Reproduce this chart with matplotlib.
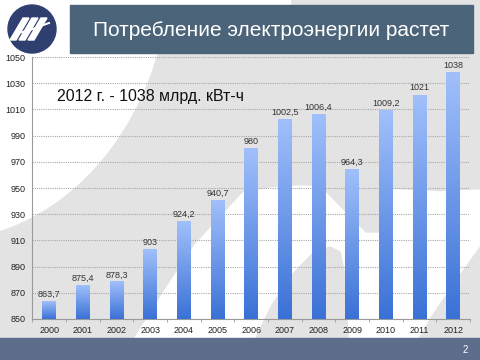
import matplotlib
matplotlib.use("Agg")
import matplotlib.pyplot as plt
import numpy as np
from matplotlib.patches import Rectangle, Circle, Ellipse, Polygon
from matplotlib.colors import LinearSegmentedColormap

years = ["2000", "2001", "2002", "2003", "2004", "2005", "2006",
         "2007", "2008", "2009", "2010", "2011", "2012"]
values = [863.7, 875.4, 878.3, 903, 924.2, 940.7, 980,
          1002.5, 1006.4, 964.3, 1009.2, 1021, 1038]
value_labels = ["863,7", "875,4", "878,3", "903", "924,2", "940,7", "980",
                "1002,5", "1006,4", "964,3", "1009,2", "1021", "1038"]
y_ticks = list(range(850, 1051, 20))
title = "Потребление электроэнергии растет"
note = "2012 г. - 1038 млрд. кВт-ч"
page = "2"

plt.rcParams['font.family'] = ['Liberation Sans', 'DejaVu Sans']

W, H = 480, 360
fig = plt.figure(figsize=(4.8, 3.6), dpi=100)

# background layer in pixel coordinates (y down)
bg = fig.add_axes([0, 0, 1, 1], zorder=0)
bg.set_xlim(0, W)
bg.set_ylim(H, 0)
bg.axis("off")
gray = "#e3e3e3"
bg.add_patch(Rectangle((0, 0), W, H, color=gray, zorder=0))
# white top-left region
bg.add_patch(Ellipse((-60, -40), 2 * 230, 2 * 280, color="white", zorder=1))
bg.add_patch(Rectangle((0, 0), 290, 5, color="white", zorder=1))
# white swoosh band lower right
bg.add_patch(Polygon([(135, 338), (165, 290), (195, 245), (243, 193), (270, 188),
                      (300, 186), (340, 188), (400, 190), (440, 192), (480, 190),
                      (480, 245), (455, 280), (430, 317), (418, 338)],
                     closed=True, color="white", zorder=1))
# gray wedge cutting from top
bg.add_patch(Polygon([(322, 187), (388, 189), (378, 232), (366, 232)],
                     closed=True, color=gray, zorder=2))
# gray bump at the bottom
bg.add_patch(Polygon([(256, 338), (272, 305), (292, 275), (312, 254), (330, 247),
                      (340, 252), (345, 275), (348, 338)],
                     closed=True, color=gray, zorder=2))
# bottom band
bg.add_patch(Rectangle((0, 338), W, H - 338, color="#5e6d8c", zorder=3))
bg.text(465, 350, page, color="white", fontsize=7, ha="center", va="center", zorder=4)
# title bar
bg.add_patch(Rectangle((70, 5), 403, 48, color="#4c6479", zorder=3))
bg.text(271, 30, title, color="white", fontsize=15, ha="center", va="center", zorder=4)
# logo
bg.add_patch(Circle((32, 29), 24, color="#2f3f70", zorder=3))
for dx in (-9, 0, 9):
    bg.add_patch(Polygon([(19 + dx, 40), (25 + dx, 40), (38 + dx, 18), (32 + dx, 18)],
                         closed=True, color="white", zorder=4))
bg.plot([15, 30, 49], [34, 30, 23], color="white", lw=1.4, zorder=4)

# chart axes
ax = fig.add_axes([32.3 / W, 1 - 319 / H, (470 - 32.3) / W, (319 - 57.1) / H], zorder=2)
ax.patch.set_alpha(0)
x = np.arange(len(years))
bars = ax.bar(x, values, width=0.41, color="none", zorder=3)

cmap = LinearSegmentedColormap.from_list("g", ["#3a71d6", "#a1c0fb"])
grad = np.linspace(0, 1, 256).reshape(-1, 1)
for b in bars:
    x0 = b.get_x()
    w = b.get_width()
    top = b.get_height()
    ax.imshow(grad, cmap=cmap, aspect="auto", origin="lower",
              extent=(x0, x0 + w, 850, top), zorder=3)
ax.set_xlim(-0.5, len(years) - 0.5)
ax.set_ylim(850, 1050)

for xi, v, lab in zip(x, values, value_labels):
    ax.text(xi, v + 2, lab, ha="center", va="bottom", fontsize=6.5, color="#333333", zorder=4)

ax.set_yticks(y_ticks)
ax.set_xticks(x)
ax.set_xticklabels(years)
ax.set_xticks(np.arange(-0.5, len(years), 1.0), minor=True)
ax.tick_params(axis="both", which="major", labelsize=6.5, colors="#222222", length=0, pad=5)
ax.tick_params(axis="x", which="minor", length=2, color="#999999")
ax.grid(axis="y", color="#a8a8a8", linestyle=(0, (1, 1)), linewidth=0.8, zorder=1)
ax.set_axisbelow(True)
for s in ("top", "right"):
    ax.spines[s].set_visible(False)
for s in ("left", "bottom"):
    ax.spines[s].set_color("#9a9a9a")
    ax.spines[s].set_linewidth(0.8)

bg.text(57, 96, note, fontsize=11.4, color="#111111", ha="left", va="center", zorder=5)

fig.savefig("out.png", dpi=100)
